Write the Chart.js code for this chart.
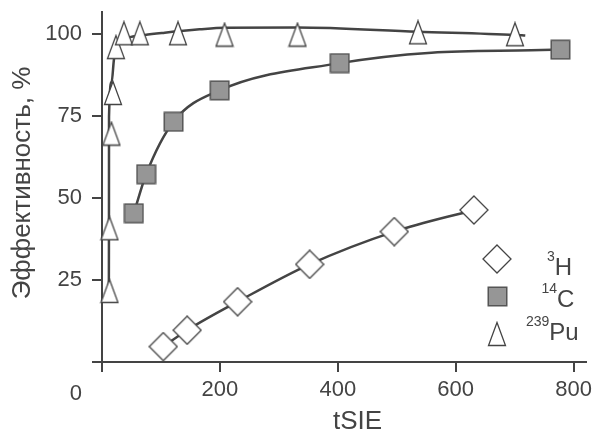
<!DOCTYPE html>
<html><head><meta charset="utf-8">
<script src="https://cdn.jsdelivr.net/npm/chart.js@4/dist/chart.umd.min.js"></script>
<style>html,body{margin:0;padding:0;background:#fff}#wrap{width:597px;height:443px}</style>
</head><body><div id="wrap"><canvas id="c" width="597" height="443"></canvas></div>
<script>
// ---- data ----
const xTickValues = [0, 200, 400, 600, 800];
const yTickValues = [0, 25, 50, 75, 100];
const xTitle = 'tSIE';
const yTitle = 'Эффективность, %';
const originLabel = '0';
const legendSup = ['3', '14', '239'];
const legendMain = ['H', 'C', 'Pu'];

// measured points (markers)
const h3X = [103.9, 144.4, 230.0, 352.2, 495.8, 630.9];
const h3Y = [4.7, 9.7, 18.4, 29.8, 39.8, 46.4];
const c14X = [54.0, 74.9, 121.3, 199.6, 403.2, 777.6];
const c14Y = [45.4, 57.3, 73.3, 82.9, 91.2, 95.3];
const puX = [12.7, 12.7, 16.0, 18.6, 23.6, 37.2, 64.2, 128.9, 207.8, 331.6, 536.0, 700.5];
const puY = [21.7, 40.8, 69.7, 82.1, 96.1, 100.3, 100.3, 100.3, 99.9, 99.9, 100.6, 100.0];

// fitted curves
const h3FitX = [103.9, 144.4, 230.0, 352.2, 495.8, 630.9];
const h3FitY = [4.7, 9.7, 18.4, 29.8, 39.8, 46.4];
const c14FitX = [54.0, 74.9, 121.3, 199.6, 403.2, 559.0, 728.0, 777.6];
const c14FitY = [45.4, 57.3, 73.3, 82.9, 91.2, 94.4, 95.1, 95.3];
const puFitX = [11.6, 11.8, 11.9, 16.4, 20.3, 27.0, 43.9, 72.6, 106.4, 165.5, 207.8, 331.0, 535.5, 701.0, 718.0];
const puFitY = [21.7, 40.0, 74.8, 85.5, 92.4, 96.7, 98.9, 99.8, 100.5, 101.5, 102.0, 102.1, 100.8, 99.8, 99.6];

// ---- styling ----
const INK = '#444';
const FONT = '"Liberation Sans", Arial, sans-serif';

function mk(w, h, draw) {
  const c = document.createElement('canvas');
  c.width = w; c.height = h;
  draw(c.getContext('2d'), w, h);
  return c;
}
const triImg = mk(20, 26, (g, w, h) => {
  g.beginPath(); g.moveTo(w / 2, 1.5); g.lineTo(w / 2 + 8.5, h - 1.5); g.lineTo(w / 2 - 8.5, h - 1.5); g.closePath();
  g.fillStyle = '#fff'; g.fill(); g.lineWidth = 1.3; g.strokeStyle = INK; g.lineJoin = 'miter'; g.stroke();
});
const sqImg = mk(21, 21, (g, w, h) => {
  g.fillStyle = '#969696'; g.fillRect(1, 1, 19, 19);
  g.lineWidth = 1.5; g.strokeStyle = '#555'; g.strokeRect(1.25, 1.25, 18.5, 18.5);
});
const diaImg = mk(30, 30, (g, w, h) => {
  g.beginPath(); g.moveTo(15, 1); g.lineTo(29, 15); g.lineTo(15, 29); g.lineTo(1, 15); g.closePath();
  g.fillStyle = '#fff'; g.fill(); g.lineWidth = 1.3; g.strokeStyle = INK; g.stroke();
});
const legendImgs = [diaImg, sqImg, triImg];

const pts = (xs, ys) => xs.map((x, i) => ({ x: x, y: ys[i] }));

const textPlugin = {
  id: 'texts',
  afterDraw(chart) {
    const g = chart.ctx;
    g.save();
    g.fillStyle = INK;
    g.textBaseline = 'alphabetic';
    g.font = '22px ' + FONT;
    g.textAlign = 'right';
    g.fillText(originLabel, 82, 399.5);
    g.font = '26px ' + FONT;
    g.textAlign = 'center';
    g.fillText(xTitle, 357.5, 428.5);
    g.save();
    g.translate(29.5, 183);
    g.rotate(-Math.PI / 2);
    g.fillText(yTitle, 0, 0);
    g.restore();
    // legend
    const cy = [258.7, 296.3, 334.2];
    const supX = [547, 541.5, 526];
    const mainBase = [275, 307, 340];
    g.textAlign = 'left';
    for (let i = 0; i < legendMain.length; i++) {
      const im = legendImgs[i];
      g.drawImage(im, Math.round(497 - im.width / 2), Math.round(cy[i] - im.height / 2));
      g.font = '14px ' + FONT;
      g.fillText(legendSup[i], supX[i], mainBase[i] - 14);
      const sw = g.measureText(legendSup[i]).width;
      g.font = '24px ' + FONT;
      g.fillText(legendMain[i], supX[i] + sw, mainBase[i]);
    }
    g.restore();
  }
};

const markerDs = (label, data, img) => ({
  label: label, data: data, showLine: false, pointStyle: img, pointRadius: 10,
  pointHoverRadius: 10, clip: false, order: 0
});
const curveDs = (label, data) => ({
  label: label, data: data, showLine: true, pointRadius: 0, pointHoverRadius: 0,
  borderColor: INK, borderWidth: 2.5, cubicInterpolationMode: 'monotone', fill: false, order: 1
});
const zeroPad = s => { s.paddingTop = 0; s.paddingBottom = 0; s.paddingLeft = 0; s.paddingRight = 0; };

new Chart(document.getElementById('c'), {
  type: 'scatter',
  data: {
    datasets: [
      markerDs('3H', pts(h3X, h3Y), diaImg),
      markerDs('14C', pts(c14X, c14Y), sqImg),
      markerDs('239Pu', pts(puX, puY), triImg),
      curveDs('3H fit', pts(h3FitX, h3FitY)),
      curveDs('14C fit', pts(c14FitX, c14FitY)),
      curveDs('239Pu fit', pts(puFitX, puFitY))
    ]
  },
  options: {
    responsive: false, animation: false, devicePixelRatio: 1,
    layout: { padding: { left: 0, top: 12, right: 9, bottom: 0 } },
    plugins: { legend: { display: false }, tooltip: { enabled: false } },
    scales: {
      x: {
        type: 'linear', min: 0, max: 821,
        afterBuildTicks: s => { s.ticks = xTickValues.map(v => ({ value: v })); },
        afterFit: s => { s.height = 81; zeroPad(s); },
        grid: { drawOnChartArea: false, drawTicks: true, tickLength: 10, color: INK, lineWidth: 2 },
        border: { display: true, color: INK, width: 2 },
        ticks: { color: INK, font: { family: FONT, size: 22 }, padding: 5, maxRotation: 0, autoSkip: false,
          callback: v => v === 0 ? '' : String(v) }
      },
      y: {
        type: 'linear', min: 0, max: 106.8,
        afterBuildTicks: s => { s.ticks = yTickValues.map(v => ({ value: v })); },
        afterFit: s => { s.width = 102; zeroPad(s); },
        grid: { drawOnChartArea: false, drawTicks: true, tickLength: 10, color: INK, lineWidth: 2 },
        border: { display: true, color: INK, width: 2 },
        ticks: { color: INK, font: { family: FONT, size: 22 }, padding: 10, autoSkip: false,
          callback: v => v === 0 ? '' : String(v) }
      }
    }
  },
  plugins: [textPlugin]
});
</script>
</body></html>
